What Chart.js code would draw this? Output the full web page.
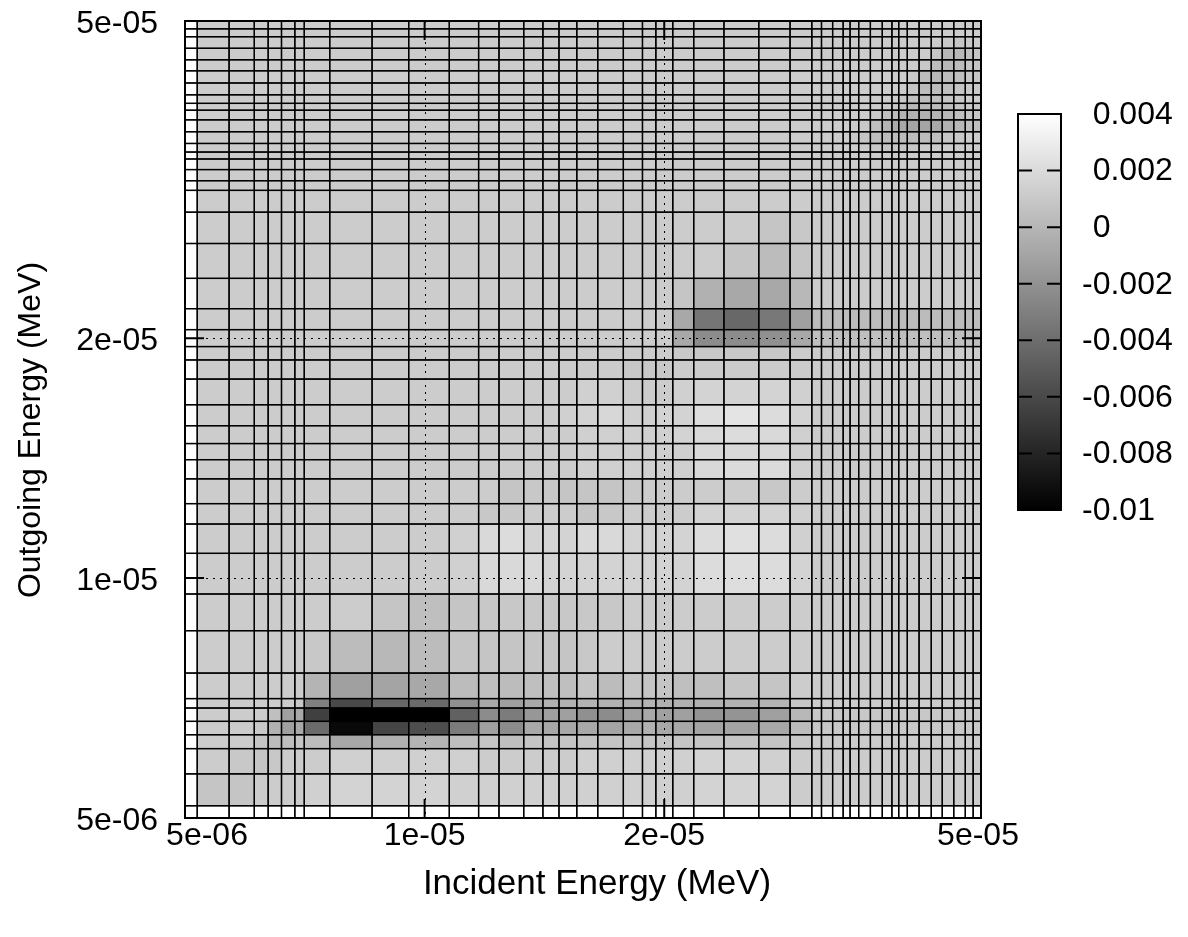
<!DOCTYPE html>
<html>
<head>
<meta charset="utf-8">
<title>Covariance map</title>
<script src="https://cdn.jsdelivr.net/npm/chart.js@4.4.1/dist/chart.umd.min.js"></script>
<style>
  html, body { margin: 0; padding: 0; background: #ffffff; }
  #wrap { width: 1188px; height: 937px; position: relative; }
</style>
</head>
<body>
<div id="wrap"><canvas id="chart"></canvas></div>
<script>
// Energy group boundaries in MeV, shared by the incident and outgoing axes.
// The first group (below 5.18e-6) carries no data.
const groupEdges = [
  5.00e-6, 5.18e-6, 5.68e-6, 6.11e-6, 6.36e-6, 6.61e-6, 6.87e-6, 7.06e-6, 7.60e-6, 8.59e-6,
  9.55e-6, 1.074e-5, 1.169e-5, 1.240e-5, 1.332e-5, 1.408e-5, 1.475e-5, 1.553e-5, 1.650e-5, 1.777e-5,
  1.878e-5, 1.952e-5, 2.050e-5, 2.178e-5, 2.377e-5, 2.629e-5, 2.878e-5, 3.065e-5, 3.152e-5, 3.255e-5,
  3.356e-5, 3.424e-5, 3.510e-5, 3.631e-5, 3.758e-5, 3.864e-5, 3.941e-5, 4.040e-5, 4.180e-5, 4.330e-5,
  4.470e-5, 4.621e-5, 4.778e-5, 4.888e-5, 5.00e-5
];

// Cell values in units of 1e-4, one row per outgoing group (lowest first),
// one entry per incident group.
const VALUE_UNIT = 1e-4;
const cellRows = [
  [8,8,12,12,12,12,14,16,16,16, 14,14,14,14,14,14,14,14,14,14, 14,14,16,16,16,12,12,12,12,12, 12,12,12,12,12,12,12,12,12,12, 12,12,12],
  [12,10,8,10,12,12,12,14,14,14, 14,12,12,12,12,12,14,14,14,14, 14,14,16,16,14,12,12,12,12,12, 12,12,12,12,12,12,12,12,12,12, 12,12,12],
  [12,12,8,3,5,8,3,-8,-3,-1, 5,8,5,8,8,8,8,8,8,8, 8,8,8,8,8,10,12,12,12,12, 12,12,12,12,12,12,12,12,12,12, 12,12,12],
  [12,12,10,-3,-12,-8,-41,-95,-62,-58, -32,-12,-23,-8,-8,-8,-8,-10,-8,-3, -8,-8,-10,-10,-8,3,10,10,10,10, 10,10,10,10,10,10,10,10,10,10, 10,10,10],
  [12,12,12,5,-12,-8,-65,-100,-100,-100, -47,-23,-32,-17,-12,-12,-21,-23,-12,-8, -12,-12,-19,-19,-12,1,10,10,10,10, 10,10,10,10,10,10,10,10,10,10, 10,10,10],
  [12,12,12,12,12,10,-30,-60,-43,-41, -21,-8,-12,-8,-3,-3,-1,-3,-3,-1, -3,-3,-3,-3,-1,8,12,12,12,12, 12,12,12,12,12,12,12,12,12,12, 12,12,12],
  [12,12,12,12,12,12,-1,-12,-10,-8, 3,5,3,5,5,5,8,3,8,8, 8,5,5,8,8,12,12,12,12,12, 12,12,12,12,12,12,12,12,12,12, 12,12,12],
  [12,12,12,12,12,12,10,3,1,3, 8,8,8,8,8,8,10,12,12,12, 12,12,12,12,12,12,12,12,12,12, 12,12,12,12,12,12,12,12,12,12, 12,12,12],
  [12,12,12,12,12,12,12,12,8,5, 8,10,10,10,10,10,10,10,12,12, 12,12,12,12,12,12,12,12,12,12, 12,12,12,12,12,12,12,12,12,12, 12,12,12],
  [12,12,12,12,12,12,12,12,12,12, 14,19,19,19,16,16,16,16,16,16, 16,16,21,22,21,16,12,12,12,12, 12,12,12,12,12,12,12,12,12,12, 12,12,12],
  [12,12,12,12,12,12,12,12,12,12, 14,19,21,16,16,16,19,19,16,16, 16,16,21,23,21,14,12,12,12,12, 12,12,12,12,12,12,12,12,12,12, 12,12,12],
  [12,12,12,12,12,12,12,12,12,12, 12,10,10,12,12,12,8,10,12,12, 12,12,16,16,16,14,12,12,12,12, 12,12,12,12,12,12,12,12,12,12, 12,12,12],
  [12,12,12,12,12,12,12,12,12,12, 12,12,8,10,10,8,8,8,10,12, 12,12,12,12,10,12,12,12,12,12, 12,12,12,12,12,12,12,12,12,12, 12,12,12],
  [12,12,12,12,12,12,12,12,12,12, 12,12,12,12,12,12,14,14,14,14, 14,14,19,20,20,14,12,12,12,12, 12,12,12,12,12,12,12,12,12,12, 12,12,12],
  [12,12,12,12,12,12,12,12,12,12, 12,12,12,12,12,12,14,14,14,14, 14,14,19,19,19,14,12,12,12,12, 12,12,12,12,12,12,12,12,12,12, 12,12,12],
  [12,12,12,12,12,12,12,12,12,12, 12,12,12,12,12,12,14,14,14,14, 14,16,19,21,19,14,12,12,12,12, 12,12,12,12,12,12,12,12,12,12, 12,12,12],
  [12,12,12,12,12,12,12,12,12,12, 12,12,12,12,12,14,16,18,14,14, 16,16,22,25,21,16,12,12,12,12, 12,12,12,12,12,12,12,12,12,12, 12,12,12],
  [12,12,12,12,12,12,12,12,12,12, 12,12,12,12,12,12,14,14,12,12, 12,14,16,16,16,14,12,12,12,12, 12,12,12,12,12,12,12,12,12,12, 12,12,12],
  [12,12,12,12,12,12,12,12,12,12, 12,12,12,12,12,12,12,12,10,10, 10,12,12,12,12,12,12,12,12,12, 12,12,12,12,12,12,12,12,12,12, 12,12,12],
  [12,12,12,12,12,12,12,12,12,12, 12,12,12,12,12,12,12,12,12,12, 12,10,10,10,10,12,12,12,12,12, 12,12,12,12,12,12,12,12,12,12, 12,12,12],
  [12,12,12,12,12,12,12,12,12,12, 12,12,12,12,12,12,12,12,12,12, 12,-8,-23,-23,-21,-8,5,5,5,5, 5,5,5,5,5,5,5,5,5,5, 5,5,5],
  [12,12,12,12,12,12,12,12,12,12, 12,12,12,12,12,12,12,12,12,12, 12,-8,-36,-43,-34,-12,3,3,3,3, 3,3,3,3,3,3,3,3,3,3, 3,3,3],
  [12,12,12,12,12,12,12,12,12,12, 12,12,12,12,12,12,12,12,12,12, 12,8,-3,-8,-8,1,12,12,12,12, 12,12,12,12,12,12,12,12,12,12, 12,12,12],
  [12,12,12,12,12,12,12,12,12,12, 12,12,12,12,12,12,12,12,12,12, 12,12,12,8,3,8,12,12,12,12, 12,12,12,12,12,12,12,12,12,12, 12,12,12],
  [12,12,12,12,12,12,12,12,12,12, 12,12,12,12,12,12,12,12,12,12, 12,12,12,12,8,10,12,12,12,12, 12,12,12,12,12,12,12,12,12,12, 12,12,12],
  [12,12,12,12,12,12,12,12,12,12, 12,12,12,12,12,12,12,12,12,12, 12,12,12,12,12,12,12,12,12,12, 12,12,12,12,12,12,12,12,12,12, 12,12,12],
  [12,12,12,12,12,12,12,12,12,12, 12,12,12,12,12,12,12,12,12,12, 12,12,12,12,12,12,12,12,12,12, 12,12,12,12,12,12,12,12,12,12, 12,12,12],
  [12,12,12,12,12,12,12,12,12,12, 12,12,12,12,12,12,12,12,12,12, 12,12,12,12,12,12,12,12,12,12, 12,12,12,12,12,12,12,12,12,12, 12,12,12],
  [12,12,12,12,12,12,12,12,12,12, 12,12,12,12,12,12,12,12,12,12, 12,12,12,12,12,12,12,12,12,12, 12,12,12,12,12,12,12,12,12,12, 12,12,12],
  [12,12,12,12,12,12,12,12,12,12, 12,12,12,12,12,12,12,12,12,12, 12,12,12,12,12,12,12,12,12,12, 12,12,12,12,10,12,12,12,12,12, 12,12,12],
  [12,12,12,12,12,12,12,12,12,12, 12,12,12,12,12,12,12,12,12,12, 12,12,12,12,12,12,12,12,12,12, 12,12,10,8,8,8,10,12,12,12, 12,12,12],
  [12,12,12,12,12,12,12,12,12,12, 12,12,12,12,12,12,12,12,12,12, 12,12,12,12,12,12,12,12,12,12, 10,8,3,3,3,3,3,3,5,8, 10,12,12],
  [12,12,12,12,12,12,12,12,12,12, 12,12,12,12,12,12,12,12,12,12, 12,12,12,12,12,12,12,12,12,12, 12,10,5,-1,-6,-8,-10,-10,-8,-3, 1,5,5],
  [12,12,12,12,12,12,12,12,12,12, 12,12,12,12,12,12,12,12,12,12, 12,12,12,12,12,12,12,12,12,12, 12,12,10,5,3,-1,-3,-3,-1,1, 5,8,8],
  [12,12,12,12,12,12,12,12,12,12, 12,12,12,12,12,12,12,12,12,12, 12,12,12,12,12,12,12,12,12,12, 12,12,12,12,10,5,1,1,3,5, 8,10,10],
  [12,12,12,12,12,12,12,12,12,12, 12,12,12,12,12,12,12,12,12,12, 12,12,12,12,12,12,12,12,12,12, 12,12,12,12,12,10,5,3,5,8, 10,12,12],
  [12,12,12,12,12,12,12,12,12,12, 12,12,12,12,12,12,12,12,12,12, 12,12,12,12,12,12,12,12,12,12, 12,12,12,12,12,12,8,3,3,5, 8,10,10],
  [12,12,12,12,12,12,12,12,12,12, 12,12,12,12,12,12,12,12,12,12, 12,12,12,12,12,12,12,12,12,12, 12,12,12,12,12,12,10,3,1,3, 5,8,8],
  [12,12,12,12,12,12,12,12,12,12, 12,12,12,12,12,12,12,12,12,12, 12,12,12,12,12,12,12,12,12,12, 12,12,12,12,12,12,12,10,3,1, 3,8,8],
  [12,12,12,12,12,12,12,12,12,12, 12,12,12,12,12,12,12,12,12,12, 12,12,12,12,12,12,12,12,12,12, 12,12,12,12,12,12,12,12,8,1, 1,5,8],
  [12,12,12,12,12,12,12,12,12,12, 12,12,12,12,12,12,12,12,12,12, 12,12,12,12,12,12,12,12,12,12, 12,12,12,12,12,12,12,12,12,10, 8,10,12],
  [12,12,12,12,12,12,12,12,12,12, 12,12,12,12,12,12,12,12,12,12, 12,12,12,12,12,12,12,12,12,12, 12,12,12,12,12,12,12,12,12,12, 12,12,12],
  [12,12,12,12,12,12,12,12,12,12, 12,12,12,12,12,12,12,12,12,12, 12,12,12,12,12,12,12,12,12,12, 12,12,12,12,12,12,12,12,12,12, 12,12,12]
];

// Axis ticks (MeV) and their labels
const xTicks = [5e-6, 1e-5, 2e-5, 5e-5];
const xTickLabels = ['5e-06', '1e-05', '2e-05', '5e-05'];
const yTicks = [5e-6, 1e-5, 2e-5, 5e-5];
const yTickLabels = ['5e-06', '1e-05', '2e-05', '5e-05'];
const xTitle = 'Incident Energy (MeV)';
const yTitle = 'Outgoing Energy (MeV)';

// Colour box range and ticks
const cbMin = -0.01;
const cbMax = 0.004;
const cbTicks = [0.004, 0.002, 0, -0.002, -0.004, -0.006, -0.008, -0.01];
const cbTickLabels = ['0.004', '0.002', '0', '-0.002', '-0.004', '-0.006', '-0.008', '-0.01'];

const FONT = "'Liberation Sans', Arial, Helvetica, sans-serif";
const FONT_SIZE = 32;
// horizontal nudges for the incident-energy tick labels (pixels)
const xLabelShift = [22, 0, 0, -3];

function grayFor(v) {
  let t = (v - cbMin) / (cbMax - cbMin);
  t = Math.max(0, Math.min(1, t));
  const g = Math.round(255 * t);
  return 'rgb(' + g + ',' + g + ',' + g + ')';
}

function cellValue(ix, iy) {
  if (ix === 0 || iy === 0) return null;
  return cellRows[iy - 1][ix - 1] * VALUE_UNIT;
}

// Colour box geometry (pixels)
const CB = { left: 1018, right: 1061, top: 114, bottom: 510 };

const heatmapPlugin = {
  id: 'heatmap',
  beforeDatasetsDraw(chart) {
    const { ctx, chartArea: a, scales: { x, y } } = chart;
    const n = groupEdges.length - 1;
    ctx.save();
    ctx.beginPath();
    ctx.rect(a.left, a.top, a.right - a.left, a.bottom - a.top);
    ctx.clip();
    const xs = groupEdges.map(e => x.getPixelForValue(e));
    const ys = groupEdges.map(e => y.getPixelForValue(e));
    for (let j = 0; j < n; j++) {
      for (let i = 0; i < n; i++) {
        const v = cellValue(i, j);
        ctx.fillStyle = v === null ? '#ffffff' : grayFor(v);
        ctx.fillRect(xs[i], ys[j + 1], xs[i + 1] - xs[i], ys[j] - ys[j + 1]);
      }
    }
    ctx.strokeStyle = '#000000';
    ctx.lineWidth = 1.3;
    for (let j = 0; j < n; j++) {
      for (let i = 0; i < n; i++) {
        ctx.strokeRect(xs[i], ys[j + 1], xs[i + 1] - xs[i], ys[j] - ys[j + 1]);
      }
    }
    ctx.restore();
  },
  afterDatasetsDraw(chart) {
    const { ctx, chartArea: a, scales: { x, y } } = chart;
    ctx.save();
    // dotted grid at the inner major ticks
    ctx.strokeStyle = '#000000';
    ctx.lineWidth = 1;
    ctx.setLineDash([2, 5]);
    xTicks.forEach(t => {
      const px = Math.round(x.getPixelForValue(t)) + 0.5;
      if (px <= a.left + 1 || px >= a.right - 1) return;
      ctx.beginPath(); ctx.moveTo(px, a.top); ctx.lineTo(px, a.bottom); ctx.stroke();
    });
    yTicks.forEach(t => {
      const py = Math.round(y.getPixelForValue(t)) + 0.5;
      if (py <= a.top + 1 || py >= a.bottom - 1) return;
      ctx.beginPath(); ctx.moveTo(a.left, py); ctx.lineTo(a.right, py); ctx.stroke();
    });
    ctx.setLineDash([]);
    // inward major ticks on all four sides
    const TL = 19;
    ctx.lineWidth = 2;
    xTicks.forEach(t => {
      const px = x.getPixelForValue(t);
      ctx.beginPath();
      ctx.moveTo(px, a.bottom); ctx.lineTo(px, a.bottom - TL);
      ctx.moveTo(px, a.top); ctx.lineTo(px, a.top + TL);
      ctx.stroke();
    });
    yTicks.forEach(t => {
      const py = y.getPixelForValue(t);
      ctx.beginPath();
      ctx.moveTo(a.left, py); ctx.lineTo(a.left + TL, py);
      ctx.moveTo(a.right, py); ctx.lineTo(a.right - TL, py);
      ctx.stroke();
    });
    // plot border
    ctx.lineWidth = 2;
    ctx.strokeRect(a.left, a.top, a.right - a.left, a.bottom - a.top);
    ctx.restore();
  },
  afterDraw(chart) {
    const { ctx, chartArea: a, scales: { x } } = chart;
    ctx.save();
    // colour box gradient
    const grad = ctx.createLinearGradient(0, CB.bottom, 0, CB.top);
    grad.addColorStop(0, grayFor(cbMin));
    grad.addColorStop(1, grayFor(cbMax));
    ctx.fillStyle = grad;
    ctx.fillRect(CB.left, CB.top, CB.right - CB.left, CB.bottom - CB.top);
    const cbPix = v => CB.bottom - (v - cbMin) / (cbMax - cbMin) * (CB.bottom - CB.top);
    ctx.strokeStyle = '#000000';
    ctx.lineWidth = 2;
    cbTicks.forEach(v => {
      const py = cbPix(v);
      ctx.beginPath();
      ctx.moveTo(CB.left, py); ctx.lineTo(CB.left + 14, py);
      ctx.moveTo(CB.right, py); ctx.lineTo(CB.right - 14, py);
      ctx.stroke();
    });
    ctx.strokeRect(CB.left, CB.top, CB.right - CB.left, CB.bottom - CB.top);
    // colour box labels
    ctx.fillStyle = '#000000';
    ctx.font = FONT_SIZE + 'px ' + FONT;
    ctx.textAlign = 'left';
    ctx.textBaseline = 'middle';
    const minusW = ctx.measureText('-').width;
    cbTicks.forEach((v, k) => {
      const lx = 1082 + (v >= 0 ? minusW : 0);
      ctx.fillText(cbTickLabels[k], lx, cbPix(v) + 1);
    });
    // incident-energy tick labels
    ctx.textAlign = 'center';
    xTicks.forEach((t, k) => {
      ctx.fillText(xTickLabels[k], x.getPixelForValue(t) + xLabelShift[k], a.bottom + 18);
    });
    // axis titles
    ctx.font = '35px ' + FONT;
    ctx.fillText(xTitle, 597, 884);
    ctx.font = '32px ' + FONT;
    ctx.translate(31, 430);
    ctx.rotate(-Math.PI / 2);
    ctx.fillText(yTitle, 0, 0);
    ctx.restore();
  }
};

const tickFont = { family: FONT, size: FONT_SIZE, lineHeight: 1.0 };

new Chart(document.getElementById('chart'), {
  type: 'scatter',
  data: { datasets: [{ data: [], pointRadius: 0 }] },
  options: {
    responsive: true,
    maintainAspectRatio: false,
    animation: false,
    events: [],
    layout: { padding: { top: 21, right: 207, left: 0, bottom: 0 } },
    plugins: { legend: { display: false }, tooltip: { enabled: false } },
    scales: {
      x: {
        type: 'logarithmic',
        position: 'bottom',
        min: 5e-6,
        max: 5e-5,
        afterBuildTicks: ax => { ax.ticks = xTicks.map(v => ({ value: v })); },
        afterFit: ax => { ax.height = 119; ax.paddingLeft = 0; ax.paddingRight = 0; },
        grid: { display: false, drawTicks: false },
        border: { display: false },
        ticks: { display: false }
      },
      y: {
        type: 'logarithmic',
        position: 'left',
        min: 5e-6,
        max: 5e-5,
        afterBuildTicks: ax => { ax.ticks = yTicks.map(v => ({ value: v })); },
        afterFit: ax => { ax.width = 185; ax.paddingTop = 0; ax.paddingBottom = 0; },
        grid: { display: false, drawTicks: false },
        border: { display: false },
        ticks: {
          autoSkip: false, padding: 27, labelOffset: 3,
          color: '#000000', font: tickFont,
          callback: (v, i) => yTickLabels[i]
        }
      }
    }
  },
  plugins: [heatmapPlugin]
});
</script>
</body>
</html>
